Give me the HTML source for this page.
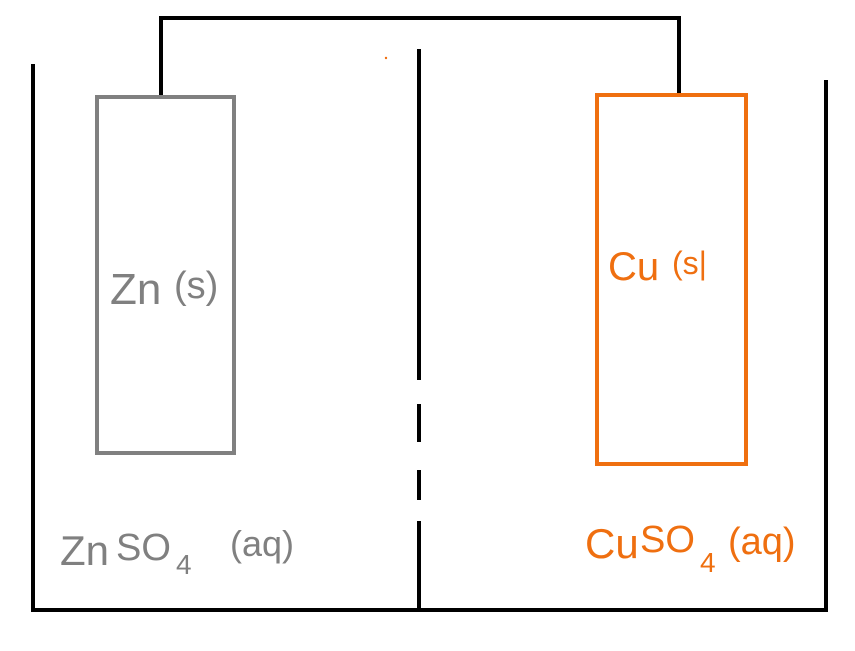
<!DOCTYPE html>
<html><head><meta charset="utf-8"><style>
html,body{margin:0;padding:0;background:#fff;width:855px;height:651px;overflow:hidden}
svg text{font-family:"Liberation Sans",sans-serif}
</style></head><body>
<svg width="855" height="651" viewBox="0 0 855 651" xmlns="http://www.w3.org/2000/svg">
<g stroke="#000" stroke-width="4" fill="none" stroke-linecap="square">
<line x1="33" y1="66" x2="33" y2="610"/>
<line x1="33" y1="610" x2="826" y2="610"/>
<line x1="826" y1="82" x2="826" y2="610"/>
<line x1="419" y1="51" x2="419" y2="378"/>
<line x1="419" y1="406" x2="419" y2="440"/>
<line x1="419" y1="472" x2="419" y2="498"/>
<line x1="419" y1="523" x2="419" y2="610"/>
<polyline points="161,97 161,18 679,18 679,95"/>
</g>
<rect x="97" y="97" width="137" height="356" fill="none" stroke="#808080" stroke-width="4"/>
<rect x="597" y="95" width="149" height="369" fill="none" stroke="#ef6f10" stroke-width="4"/>
<circle cx="386" cy="58" r="1.2" fill="#ef6f10"/>
<text x="110" y="304" font-size="44" fill="#808080">Zn</text>
<text x="174" y="298" font-size="38" fill="#808080">(s)</text>
<text x="608" y="280" font-size="40" fill="#ef6f10">Cu</text>
<text x="672" y="274" font-size="32" fill="#ef6f10">(s|</text>
<text x="60" y="565" font-size="42" fill="#808080">Zn</text>
<text x="116" y="560" font-size="38" fill="#808080">SO</text>
<text x="176" y="574" font-size="28" fill="#808080">4</text>
<text x="230" y="556" font-size="36" fill="#808080">(aq)</text>
<text x="585" y="558" font-size="42" fill="#ef6f10">Cu</text>
<text x="640" y="552" font-size="38" fill="#ef6f10">SO</text>
<text x="700" y="572" font-size="28" fill="#ef6f10">4</text>
<text x="728" y="554" font-size="38" fill="#ef6f10">(aq)</text>
</svg>
</body></html>
